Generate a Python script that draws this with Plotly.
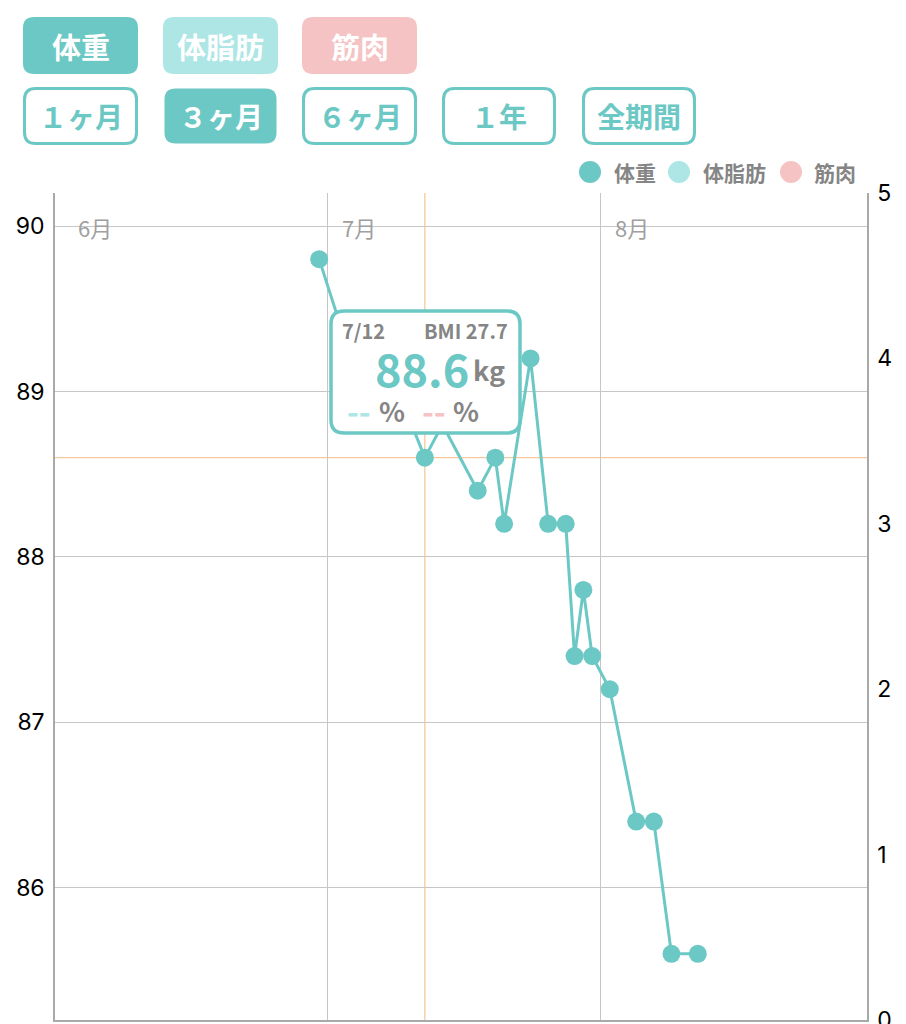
import plotly.graph_objects as go

# ---------------- data ----------------
dates = ["2023-06-30", "2023-07-03", "2023-07-07", "2023-07-09", "2023-07-12",
         "2023-07-14", "2023-07-18", "2023-07-20", "2023-07-21", "2023-07-24",
         "2023-07-26", "2023-07-28", "2023-07-29", "2023-07-30", "2023-07-31",
         "2023-08-02", "2023-08-05", "2023-08-07", "2023-08-09", "2023-08-12"]
weights = [89.8, 89.3, 89.4, 89.0, 88.6, 88.8, 88.4, 88.6, 88.2, 89.2,
           88.2, 88.2, 87.4, 87.8, 87.4, 87.2, 86.4, 86.4, 85.6, 85.6]
fat_dates = []
fat_values = []
muscle_dates = []
muscle_values = []

month_starts = ["2023-06-01", "2023-07-01", "2023-08-01"]
month_labels = ["6月", "7月", "8月"]
left_ticks = [86, 87, 88, 89, 90]
right_ticks = [0, 1, 2, 3, 4, 5]

series_names = ["体重", "体脂肪", "筋肉"]
period_buttons = ["１ヶ月", "３ヶ月", "６ヶ月", "１年", "全期間"]
selected_index = 4
bmi_text = "BMI 27.7"
tooltip_date = "7/12"

# ---------------- style ----------------
TEAL = "#6cc8c4"
LTEAL = "#ade6e5"
PINK = "#f5c3c4"
GRAY = "#858585"
FONT = "Noto Sans CJK JP"
NUMFONT = "Inter"

# page has an 8px body margin: figure is drawn 8px in from the window corner
OFF = 8
WIN_W, WIN_H = 906, 1024
W, H = WIN_W - OFF, WIN_H - OFF
# plot area in window (reference) pixels
L, R, T, B = 55, 867, 193, 1020


def px(xp):
    return (xp - L) / (R - L)


def py(yp):
    return (B - yp) / (B - T)


def rrect(x0, y0, x1, y1, r):
    X0, X1 = px(x0), px(x1)
    Y0, Y1 = py(y0), py(y1)
    rx = r / (R - L)
    ry = r / (B - T)
    return (f"M {X0+rx},{Y0} L {X1-rx},{Y0} Q {X1},{Y0} {X1},{Y0-ry} "
            f"L {X1},{Y1+ry} Q {X1},{Y1} {X1-rx},{Y1} "
            f"L {X0+rx},{Y1} Q {X0},{Y1} {X0},{Y1+ry} "
            f"L {X0},{Y0-ry} Q {X0},{Y0} {X0+rx},{Y0} Z")


fig = go.Figure()

fig.add_trace(go.Scatter(
    x=dates, y=weights, mode="lines+markers", name=series_names[0],
    line=dict(color=TEAL, width=3), marker=dict(color=TEAL, size=18),
    showlegend=False, hoverinfo="skip"))
fig.add_trace(go.Scatter(
    x=fat_dates, y=fat_values, mode="lines+markers", name=series_names[1],
    line=dict(color=LTEAL, width=3), marker=dict(color=LTEAL, size=18),
    yaxis="y2", showlegend=False))
fig.add_trace(go.Scatter(
    x=muscle_dates, y=muscle_values, mode="lines+markers", name=series_names[2],
    line=dict(color=PINK, width=3), marker=dict(color=PINK, size=18),
    yaxis="y2", showlegend=False))

shapes = []
annotations = []

# crosshair at selected point
shapes.append(dict(type="line", xref="x", yref="paper",
                   x0=dates[selected_index], x1=dates[selected_index], y0=0, y1=1,
                   line=dict(color="#f5c99b", width=1.3), layer="between"))
shapes.append(dict(type="line", xref="paper", yref="y",
                   x0=0, x1=1, y0=weights[selected_index], y1=weights[selected_index],
                   line=dict(color="#f5c99b", width=1.3), layer="between"))

# month labels
for d, lab in zip(month_starts, month_labels):
    annotations.append(dict(x=d, xref="x", y=py(227), yref="paper", text=lab,
                            showarrow=False, xanchor="left", yanchor="middle", xshift=12,
                            font=dict(family=FONT, size=22, color="#a0a0a0")))

# series buttons (row 1)
row1 = [(23, 138, TEAL), (163, 278, LTEAL), (302, 417, PINK)]
for (x0, x1, c), name in zip(row1, series_names):
    shapes.append(dict(type="path", xref="paper", yref="paper",
                       path=rrect(x0, 17, x1, 74, 11), fillcolor=c,
                       line=dict(width=0), layer="above"))
    annotations.append(dict(x=px((x0 + x1) / 2), y=py(46), xref="paper", yref="paper",
                            text=f"<b>{name}</b>", showarrow=False,
                            xanchor="center", yanchor="middle",
                            font=dict(family=FONT, size=29, color="white")))

# period buttons (row 2)
row2 = [(23, 138), (163, 278), (302, 417), (442, 556), (582, 696)]
for i, ((x0, x1), lab) in enumerate(zip(row2, period_buttons)):
    active = (i == 1)
    shapes.append(dict(type="path", xref="paper", yref="paper",
                       path=rrect(x0 + 1.5, 88.5, x1 - 1.5, 143.5, 11),
                       fillcolor=TEAL if active else "white",
                       line=dict(width=0 if active else 3, color=TEAL), layer="above"))
    annotations.append(dict(x=px((x0 + x1) / 2), y=py(116), xref="paper", yref="paper",
                            text=f"<b>{lab}</b>", showarrow=False,
                            xanchor="center", yanchor="middle",
                            font=dict(family=FONT, size=28,
                                      color="white" if active else TEAL)))

# legend (manual)
leg = [(590, 613, TEAL), (679, 702, LTEAL), (791, 813, PINK)]
for (cx, tx, c), name in zip(leg, series_names):
    shapes.append(dict(type="circle", xref="paper", yref="paper",
                       x0=px(cx - 11), x1=px(cx + 11), y0=py(183), y1=py(161),
                       fillcolor=c, line=dict(width=0), layer="above"))
    annotations.append(dict(x=px(tx - 1), y=py(172), xref="paper", yref="paper",
                            text=f"<b>{name}</b>", showarrow=False,
                            xanchor="left", yanchor="middle",
                            font=dict(family=FONT, size=21, color=GRAY)))

# tooltip box
shapes.append(dict(type="path", xref="paper", yref="paper",
                   path=rrect(331, 311, 520, 433, 13), fillcolor="white",
                   line=dict(color=TEAL, width=3.5), layer="above"))
annotations.append(dict(x=px(340), y=py(330), xref="paper", yref="paper",
                        text=f"<b>{tooltip_date}</b>", showarrow=False,
                        xanchor="left", yanchor="middle",
                        font=dict(family=FONT, size=20, color=GRAY)))
annotations.append(dict(x=px(510), y=py(330), xref="paper", yref="paper",
                        text=f"<b>{bmi_text}</b>", showarrow=False,
                        xanchor="right", yanchor="middle",
                        font=dict(family=FONT, size=20, color=GRAY)))
annotations.append(dict(x=px(471), y=py(367), xref="paper", yref="paper",
                        text=f"<b>{weights[selected_index]:.1f}</b>",
                        showarrow=False, xanchor="right", yanchor="middle",
                        font=dict(family=FONT, size=45, color=TEAL)))
annotations.append(dict(x=px(471), y=py(369), xref="paper", yref="paper",
                        text="<b>kg</b>",
                        showarrow=False, xanchor="left", yanchor="middle",
                        font=dict(family=FONT, size=27, color=GRAY)))
for x_dash, x_pct, c in [(345, 377, LTEAL), (420, 451, PINK)]:
    annotations.append(dict(x=px(x_dash), y=py(410), xref="paper", yref="paper",
                            text="<b>--</b>", showarrow=False,
                            xanchor="left", yanchor="middle",
                            font=dict(family=FONT, size=32, color=c)))
    annotations.append(dict(x=px(x_pct), y=py(410), xref="paper", yref="paper",
                            text="<b>%</b>", showarrow=False,
                            xanchor="left", yanchor="middle",
                            font=dict(family=FONT, size=27, color=GRAY)))

fig.update_layout(
    width=W, height=H,
    margin=dict(l=L - OFF, r=WIN_W - R, t=T - OFF, b=WIN_H - B, pad=0),
    paper_bgcolor="white", plot_bgcolor="white",
    showlegend=False,
    font=dict(family=FONT, size=20, color="black"),
    xaxis=dict(type="date", range=["2023-05-31 00:00", "2023-08-31 05:00"],
               tickvals=month_starts[1:], showticklabels=False,
               showgrid=True, gridcolor="#c6c6c6", gridwidth=1,
               showline=True, linecolor="#a9a9a9", linewidth=1.5,
               zeroline=False, ticks="", fixedrange=True, automargin=False),
    yaxis=dict(range=[85.2, 90.2], tickvals=left_ticks,
               ticktext=[str(v) for v in left_ticks],
               showgrid=True, gridcolor="#c6c6c6", gridwidth=1,
               showline=True, linecolor="#a9a9a9", linewidth=1.5,
               zeroline=False, ticks="", ticklabelstandoff=4, automargin=False,
               tickfont=dict(family=NUMFONT, size=23, color="black")),
    yaxis2=dict(range=[0, 5], tickvals=right_ticks, overlaying="y", side="right",
                showgrid=False, showline=True, linecolor="#a9a9a9", linewidth=1.5,
                zeroline=False, ticks="", ticklabelstandoff=4, automargin=False,
                ticklabeloverflow="allow",
                tickfont=dict(family=NUMFONT, size=23, color="black")),
    shapes=shapes,
    annotations=annotations,
)

fig.write_html("out.html")
